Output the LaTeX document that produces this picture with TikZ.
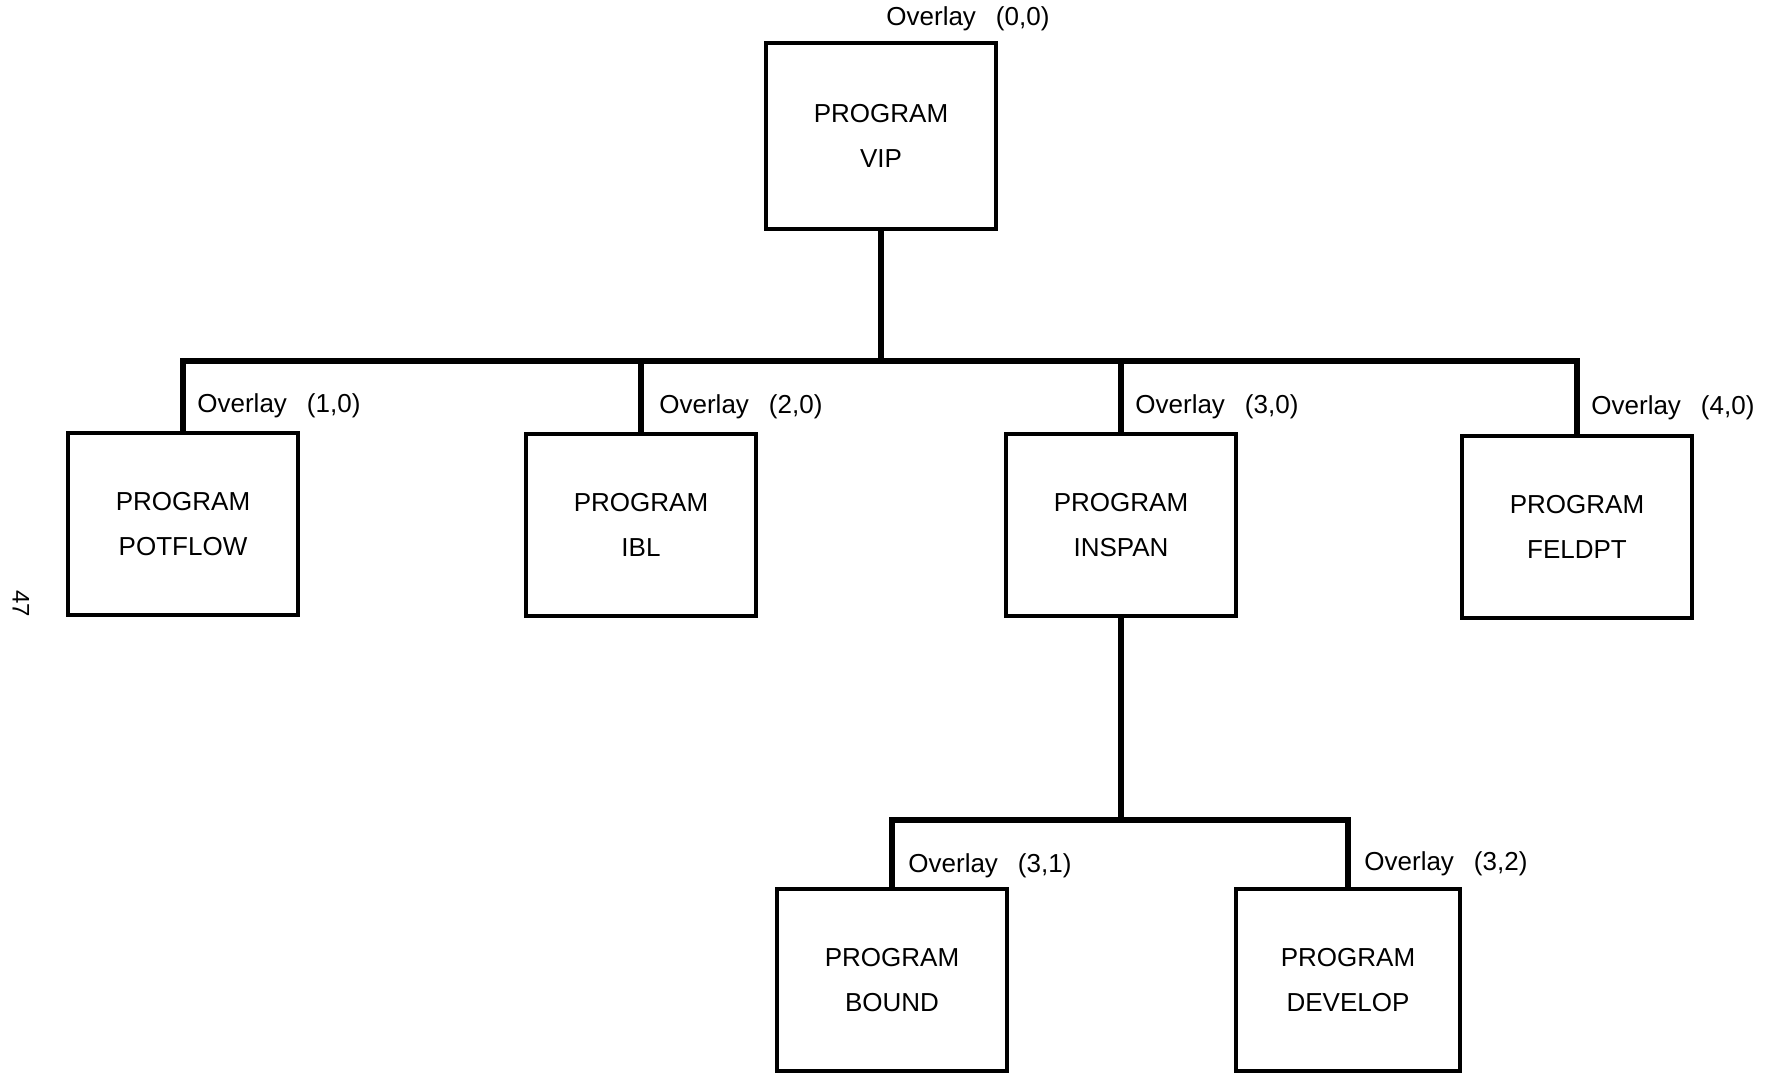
\documentclass[tikz,border=0pt]{standalone}
\usepackage{fontspec}
\setmainfont{Liberation Sans}
\usetikzlibrary{calc, positioning}

\begin{document}
\begin{tikzpicture}[x=0.5pt, y=-0.5pt, font=\fontsize{13}{22.7}\selectfont]
    \tikzstyle{box}=[draw=black, line width=1.7pt, rectangle, minimum width=115pt, minimum height=91pt, align=center, inner sep=0pt]
    \tikzstyle{bus}=[draw=black, line width=3.2pt]
    \tikzstyle{lbl}=[anchor=west, inner sep=0pt]

    \useasboundingbox (0,0) rectangle (1779,1075);

    \node[box, minimum height=93pt] (vip) at (881,136) {PROGRAM\\VIP};
    \node[box] (potflow) at (183,524) {PROGRAM\\POTFLOW};
    \node[box] (ibl) at (641,525) {PROGRAM\\IBL};
    \node[box] (inspan) at (1121,525) {PROGRAM\\INSPAN};
    \node[box] (feldpt) at (1577,527) {PROGRAM\\FELDPT};
    \node[box] (bound) at (892,980) {PROGRAM\\BOUND};
    \node[box, minimum width=112pt] (develop) at (1348,980) {PROGRAM\\DEVELOP};

    \coordinate (bus) at (881,361);
    \coordinate (bus2) at (1121,820);

    \draw[bus] (vip.south) -- (vip.south |- bus);
    \draw[bus] (potflow.north) |- (bus) -| (feldpt.north);
    \draw[bus] (ibl.north) -- (ibl.north |- bus);
    \draw[bus] (inspan.north) -- (inspan.north |- bus);
    \draw[bus] (inspan.south) -- (bus2);
    \draw[bus] (bound.north) |- (bus2) -| (develop.north);

    \node[lbl] (ov00) at ($(vip.north)+(5,-23)$) {Overlay\hspace{10pt}(0,0)};
    \node[lbl] (ov10) at ($(potflow.north)+(14,-26)$) {Overlay\hspace{10pt}(1,0)};
    \node[lbl] (ov20) at ($(ibl.north)+(18,-26)$) {Overlay\hspace{10pt}(2,0)};
    \node[lbl] (ov30) at ($(inspan.north)+(14,-26)$) {Overlay\hspace{10pt}(3,0)};
    \node[lbl] (ov40) at ($(feldpt.north)+(14,-27)$) {Overlay\hspace{10pt}(4,0)};
    \node[lbl] (ov31) at ($(bound.north)+(16,-22)$) {Overlay\hspace{10pt}(3,1)};
    \node[lbl] (ov32) at ($(develop.north)+(16,-24)$) {Overlay\hspace{10pt}(3,2)};

    \node[rotate=-90, font=\fontsize{12}{14}\selectfont] (pagenum) at (21,604) {47};
\end{tikzpicture}
\end{document}
